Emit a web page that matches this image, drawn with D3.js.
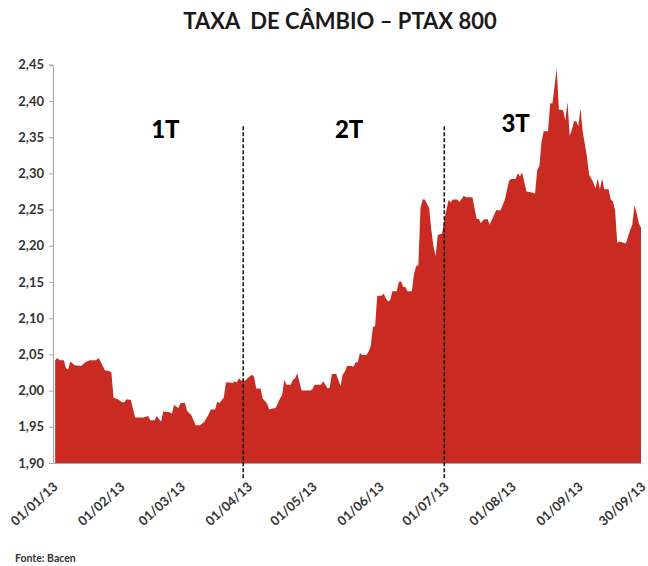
<!DOCTYPE html>
<html>
<head>
<meta charset="utf-8">
<script src="https://cdn.jsdelivr.net/npm/d3@7"></script>
<style>
  body { margin: 0; background: #fff; }
  text { font-family: Lato, "Open Sans", sans-serif; }
</style>
</head>
<body>
<div id="chart"></div>
<script>
// PTAX 800 (R$/US$), 2013
const dias = [
  "01-02","01-03","01-04","01-06","01-07","01-08","01-09","01-11","01-14","01-16",
  "01-18","01-21","01-22","01-23","01-25","01-27","01-28","01-29","01-31","02-02",
  "02-03","02-04","02-06","02-08","02-12","02-14","02-15","02-17","02-18","02-20",
  "02-21","02-24","02-25","02-26","02-28","03-01","03-03","03-04","03-06","03-08",
  "03-10","03-12","03-14","03-15","03-17","03-18","03-19","03-21","03-22","03-24",
  "03-25","03-26","03-27","03-28","03-29","03-31","04-01","04-03","04-04","04-05",
  "04-07","04-08","04-10","04-11","04-12","04-14","04-16","04-17","04-18","04-19",
  "04-21","04-22","04-23","04-24","04-26","04-30","05-01","05-02","05-05","05-06",
  "05-07","05-08","05-09","05-10","05-12","05-14","05-15","05-16","05-17","05-19",
  "05-20","05-21","05-22","05-23","05-24","05-26","05-27","05-28","05-29","05-30",
  "05-31","06-02","06-03","06-04","06-05","06-06","06-07","06-09","06-10","06-11",
  "06-12","06-13","06-14","06-16","06-17","06-18","06-19","06-20","06-21","06-22",
  "06-24","06-25","06-26","06-27","06-28","06-30","07-01","07-03","07-04","07-05",
  "07-07","07-08","07-10","07-11","07-14","07-16","07-17","07-18","07-19","07-21",
  "07-22","07-25","07-27","07-29","07-31","08-01","08-03","08-04","08-05","08-06",
  "08-08","08-10","08-12","08-13","08-14","08-15","08-16","08-18","08-19","08-20",
  "08-21","08-22","08-23","08-25","08-26","08-27","08-28","08-29","08-30","08-31",
  "09-01","09-02","09-03","09-05","09-06","09-07","09-08","09-09","09-10","09-11",
  "09-12","09-13","09-15","09-16","09-17","09-18","09-19","09-20","09-23","09-25",
  "09-26","09-27","09-28","09-29","09-30"
];
const ptax = [
  2.042,2.045,2.042,2.042,2.031,2.029,2.040,2.035,2.034,2.039,
  2.042,2.042,2.045,2.040,2.028,2.027,2.025,1.990,1.988,1.984,
  1.984,1.988,1.987,1.963,1.963,1.965,1.959,1.959,1.965,1.957,
  1.971,1.970,1.968,1.980,1.976,1.983,1.983,1.972,1.966,1.952,
  1.952,1.957,1.967,1.974,1.974,1.985,1.983,1.990,2.011,2.011,
  2.010,2.013,2.011,2.017,2.014,2.014,2.017,2.022,2.019,2.003,
  2.003,1.989,1.982,1.974,1.975,1.976,1.989,1.994,2.015,2.008,
  2.008,2.015,2.017,2.024,2.000,2.000,2.002,2.008,2.008,2.013,
  2.008,2.003,2.004,2.023,2.023,2.006,2.022,2.026,2.034,2.034,
  2.033,2.039,2.039,2.052,2.049,2.049,2.054,2.062,2.088,2.089,
  2.131,2.131,2.134,2.127,2.123,2.125,2.137,2.137,2.150,2.151,
  2.143,2.143,2.137,2.137,2.161,2.172,2.173,2.252,2.264,2.264,
  2.252,2.222,2.199,2.186,2.215,2.217,2.236,2.263,2.260,2.264,
  2.264,2.260,2.269,2.267,2.267,2.237,2.237,2.231,2.236,2.237,
  2.229,2.249,2.249,2.263,2.290,2.292,2.292,2.300,2.296,2.301,
  2.275,2.274,2.272,2.305,2.310,2.344,2.358,2.358,2.397,2.396,
  2.420,2.445,2.388,2.387,2.373,2.399,2.352,2.360,2.372,2.372,
  2.365,2.390,2.358,2.323,2.298,2.293,2.287,2.279,2.293,2.278,
  2.293,2.278,2.278,2.264,2.261,2.249,2.204,2.206,2.203,2.222,
  2.229,2.256,2.245,2.231,2.225
];
const xTickDates = ["01-01","02-01","03-01","04-01","05-01","06-01","07-01","08-01","09-01","09-30"];
const yTicks = [1.90,1.95,2.00,2.05,2.10,2.15,2.20,2.25,2.30,2.35,2.40,2.45];
const trimestreCortes = ["03-30","07-01"];
const trimestres = ["1T","2T","3T"];
const trimestreDatas = ["02-22","05-18","08-03"];
const trimestreValores = [2.349,2.349,2.357];

const width = 648, height = 566;
const margin = {top: 64.7, right: 7, bottom: 103, left: 53};

const parse = d3.timeParse("%Y-%m-%d");
const dt = s => parse("2013-" + s);
const data = dias.map((d, i) => ({date: dt(d), value: ptax[i]}));

const svg = d3.select("#chart").append("svg")
  .attr("width", width)
  .attr("height", height);

const x = d3.scaleTime()
  .domain([dt("01-01"), dt("09-30")])
  .range([margin.left, width - margin.right]);

const y = d3.scaleLinear()
  .domain([1.90, 2.45])
  .range([height - margin.bottom, margin.top]);

// title
svg.append("text")
  .attr("x", 340)
  .attr("y", 29)
  .attr("text-anchor", "middle")
  .style("white-space", "pre")
  .attr("font-size", 22)
  .attr("font-weight", "bold")
  .attr("fill", "#1a1a1a")
  .text("TAXA  DE CÂMBIO – PTAX 800");

// area
const area = d3.area()
  .x(d => x(d.date))
  .y0(y(1.90))
  .y1(d => y(d.value));

svg.append("path")
  .datum(data)
  .attr("fill", "#c92a22")
  .attr("d", area);

// y axis
const yAxis = svg.append("g")
  .attr("transform", `translate(${margin.left},0)`)
  .call(d3.axisLeft(y).tickValues(yTicks).tickSize(4).tickPadding(5)
    .tickFormat(d => d3.format(".2f")(d).replace(".", ",")));
yAxis.select(".domain").attr("stroke", "#a6a6a6");
yAxis.selectAll(".tick line").attr("stroke", "#a6a6a6");
yAxis.selectAll("text")
  .attr("font-size", 13)
  .attr("font-weight", "bold")
  .attr("fill", "#333");

// x axis
const xAxis = svg.append("g")
  .attr("transform", `translate(0,${y(1.90)})`)
  .call(d3.axisBottom(x).tickValues(xTickDates.map(dt)).tickSize(0)
    .tickFormat(d3.timeFormat("%d/%m/%y")));
xAxis.select(".domain").attr("stroke", "#a6a6a6");
xAxis.selectAll("text")
  .attr("font-size", 13)
  .attr("font-weight", "bold")
  .attr("fill", "#333")
  .attr("text-anchor", "end")
  .attr("dy", 0)
  .attr("y", 0)
  .attr("transform", "translate(5,25) rotate(-42)");

// quarter separators
svg.append("g")
  .selectAll("line")
  .data(trimestreCortes)
  .join("line")
    .attr("x1", d => x(dt(d)))
    .attr("x2", d => x(dt(d)))
    .attr("y1", y(2.365))
    .attr("y2", y(1.90) + 16)
    .attr("stroke", "#1a1a1a")
    .attr("stroke-width", 1.6)
    .attr("stroke-dasharray", "4,2");

svg.append("g")
  .selectAll("text")
  .data(trimestres)
  .join("text")
    .attr("x", (d, i) => x(dt(trimestreDatas[i])))
    .attr("y", (d, i) => y(trimestreValores[i]))
    .attr("text-anchor", "middle")
    .attr("font-size", 24)
    .attr("font-weight", 900)
    .attr("fill", "#000")
    .text(d => d);

// source
svg.append("text")
  .attr("x", 15)
  .attr("y", 562)
  .attr("font-size", 10.5)
  .attr("font-weight", "bold")
  .attr("fill", "#333")
  .text("Fonte: Bacen");
</script>
</body>
</html>
